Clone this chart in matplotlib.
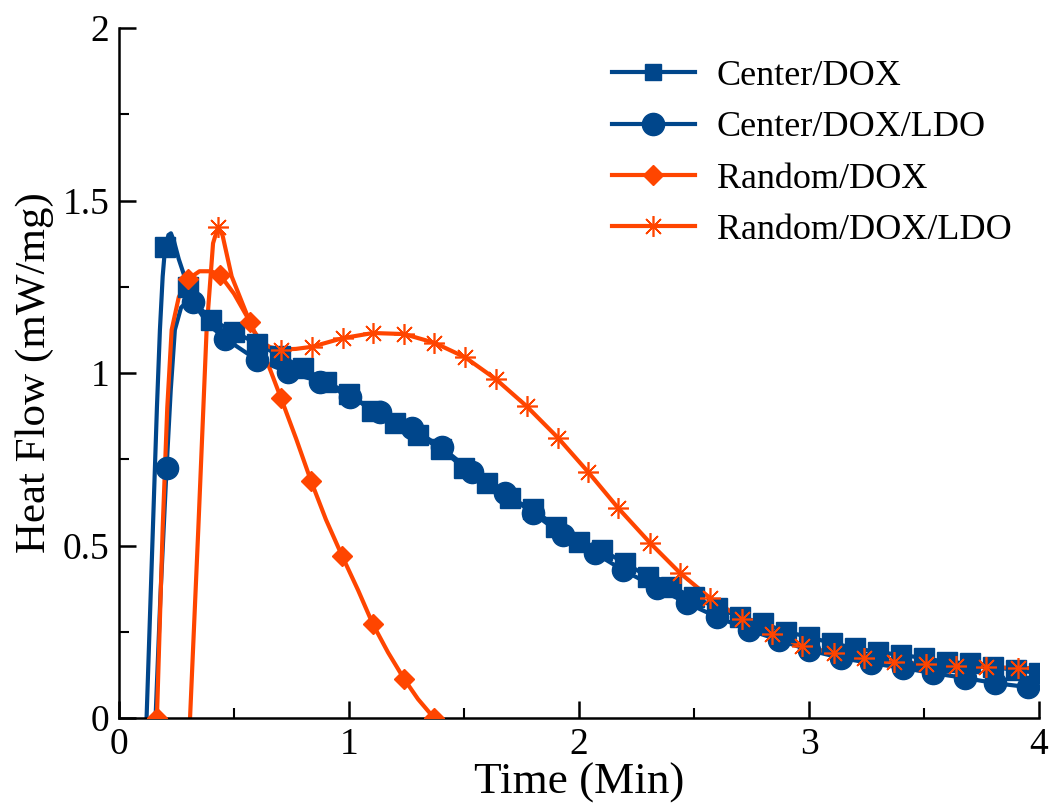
import matplotlib
matplotlib.use("Agg")
import matplotlib.pyplot as plt
from matplotlib.ticker import MultipleLocator

plt.rcParams['font.family'] = ['Liberation Serif', 'DejaVu Serif']
plt.rcParams['mathtext.fontset'] = 'stix'

BLUE = '#00468B'
ORANGE = '#FF4500'

# ---------------- data ----------------
# Center/DOX : smooth curve + square markers
cd_curve_x = [0.12, 0.135, 0.15, 0.165, 0.178, 0.19, 0.20, 0.215, 0.226, 0.24, 0.26, 0.28, 0.30, 0.35, 0.40,
              0.5, 0.6, 0.7, 0.8, 0.9, 1.0, 1.1, 1.2, 1.3, 1.4, 1.5, 1.6, 1.7, 1.8, 1.9, 2.0, 2.1, 2.2, 2.3,
              2.4, 2.5, 2.6, 2.7, 2.8, 2.9, 3.0, 3.1, 3.2, 3.3, 3.4, 3.5, 3.6, 3.7, 3.8, 3.9, 4.0]
cd_curve_y = [0.0, 0.30, 0.60, 0.90, 1.125, 1.28, 1.36, 1.40, 1.405, 1.38, 1.33, 1.29, 1.25, 1.19, 1.155,
              1.12, 1.085, 1.05, 1.015, 0.975, 0.94, 0.89, 0.855, 0.82, 0.78, 0.725, 0.68, 0.637, 0.605,
              0.555, 0.51, 0.487, 0.449, 0.41, 0.38, 0.35, 0.32, 0.293, 0.275, 0.25, 0.235, 0.217, 0.203,
              0.191, 0.183, 0.174, 0.162, 0.159, 0.148, 0.139, 0.13]
cd_mark_x = [0.2, 0.3, 0.4, 0.5, 0.6, 0.7, 0.8, 0.9, 1.0, 1.1, 1.2, 1.3, 1.4, 1.5, 1.6, 1.7, 1.8, 1.9, 2.0,
             2.1, 2.2, 2.3, 2.4, 2.5, 2.6, 2.7, 2.8, 2.9, 3.0, 3.1, 3.2, 3.3, 3.4, 3.5, 3.6, 3.7, 3.8, 3.9, 4.0]
cd_mark_y = [1.365, 1.25, 1.155, 1.12, 1.085, 1.05, 1.015, 0.975, 0.94, 0.89, 0.855, 0.82, 0.78, 0.725,
             0.68, 0.637, 0.605, 0.555, 0.51, 0.487, 0.449, 0.41, 0.38, 0.35, 0.32, 0.293, 0.275, 0.25,
             0.235, 0.217, 0.203, 0.191, 0.183, 0.174, 0.162, 0.159, 0.148, 0.139, 0.13]

# Center/DOX/LDO : smooth curve + circle markers
cdl_curve_x = [0.159, 0.18, 0.207, 0.225, 0.243, 0.27, 0.30, 0.32, 0.39, 0.461, 0.60, 0.735, 0.874, 1.004,
               1.135, 1.272, 1.403, 1.535, 1.678, 1.80, 1.93, 2.07, 2.19, 2.34, 2.47, 2.60, 2.74, 2.87,
               3.00, 3.14, 3.27, 3.41, 3.54, 3.68, 3.81, 3.95, 4.0]
cdl_curve_y = [0.0, 0.35, 0.725, 0.95, 1.125, 1.19, 1.21, 1.207, 1.14, 1.10, 1.038, 1.003, 0.975, 0.931,
               0.888, 0.84, 0.785, 0.713, 0.652, 0.594, 0.53, 0.478, 0.429, 0.377, 0.333, 0.293, 0.255,
               0.226, 0.197, 0.174, 0.159, 0.145, 0.130, 0.116, 0.101, 0.090, 0.088]
cdl_mark_x = [0.207, 0.32, 0.461, 0.60, 0.735, 0.874, 1.004, 1.135, 1.272, 1.403, 1.535, 1.678, 1.80, 1.93,
              2.07, 2.19, 2.34, 2.47, 2.60, 2.74, 2.87, 3.00, 3.14, 3.27, 3.41, 3.54, 3.68, 3.81, 3.95]
cdl_mark_y = [0.725, 1.207, 1.10, 1.038, 1.003, 0.975, 0.931, 0.888, 0.84, 0.785, 0.713, 0.652, 0.594,
              0.53, 0.478, 0.429, 0.377, 0.333, 0.293, 0.255, 0.226, 0.197, 0.174, 0.159, 0.145, 0.130,
              0.116, 0.101, 0.090]

# Random/DOX : smooth curve + diamond markers
rd_curve_x = [0.165, 0.19, 0.21, 0.229, 0.26, 0.30, 0.35, 0.40, 0.44, 0.50, 0.57, 0.64, 0.704, 0.77,
              0.835, 0.90, 0.97, 1.04, 1.104, 1.17, 1.24, 1.30, 1.37]
rd_curve_y = [0.0, 0.55, 0.90, 1.125, 1.22, 1.272, 1.295, 1.295, 1.284, 1.23, 1.148, 1.04, 0.928, 0.81,
              0.687, 0.575, 0.470, 0.37, 0.272, 0.19, 0.113, 0.055, 0.0]
rd_mark_x = [0.165, 0.30, 0.44, 0.57, 0.704, 0.835, 0.97, 1.104, 1.24, 1.37]
rd_mark_y = [0.0, 1.272, 1.284, 1.148, 0.928, 0.687, 0.470, 0.272, 0.113, 0.0]

# Random/DOX/LDO : smooth curve + asterisk markers
rdl_curve_x = [0.309, 0.345, 0.381, 0.409, 0.43, 0.45, 0.49, 0.548, 0.583, 0.62, 0.657, 0.704, 0.77,
               0.838, 0.972, 1.104, 1.239, 1.37, 1.504, 1.639, 1.772, 1.909, 2.04, 2.17, 2.31, 2.44,
               2.57, 2.71, 2.84, 2.97, 3.11, 3.24, 3.37, 3.51, 3.64, 3.77, 3.91, 4.0]
rdl_curve_y = [0.0, 0.55, 1.125, 1.376, 1.423, 1.40, 1.28, 1.183, 1.125, 1.09, 1.075, 1.068, 1.07,
               1.076, 1.101, 1.116, 1.113, 1.088, 1.046, 0.982, 0.904, 0.812, 0.713, 0.609, 0.507, 0.42,
               0.348, 0.287, 0.243, 0.209, 0.188, 0.174, 0.162, 0.157, 0.151, 0.148, 0.145, 0.145]
rdl_mark_x = [0.43, 0.704, 0.838, 0.972, 1.104, 1.239, 1.37, 1.504, 1.639, 1.772, 1.909, 2.04, 2.17,
              2.31, 2.44, 2.57, 2.71, 2.84, 2.97, 3.11, 3.24, 3.37, 3.51, 3.64, 3.77, 3.91]
rdl_mark_y = [1.423, 1.068, 1.076, 1.101, 1.116, 1.113, 1.088, 1.046, 0.982, 0.904, 0.812, 0.713, 0.609,
              0.507, 0.42, 0.348, 0.287, 0.243, 0.209, 0.188, 0.174, 0.162, 0.157, 0.151, 0.148, 0.145]

labels = ['Center/DOX', 'Center/DOX/LDO', 'Random/DOX', 'Random/DOX/LDO']
x_ticks = [0, 1, 2, 3, 4]
y_ticks = [0, 0.5, 1, 1.5, 2]
y_tick_labels = ['0', '0.5', '1', '1.5', '2']

# ---------------- figure ----------------
fig = plt.figure(figsize=(10.51, 8.05), dpi=100)
ax = fig.add_axes([0.1132, 0.108, 0.8754, 0.8572])

LW = 3.0
series = [
    (cd_curve_x, cd_curve_y, cd_mark_x, cd_mark_y, BLUE, dict(marker='s', markersize=14)),
    (cdl_curve_x, cdl_curve_y, cdl_mark_x, cdl_mark_y, BLUE, dict(marker='o', markersize=16)),
    (rd_curve_x, rd_curve_y, rd_mark_x, rd_mark_y, ORANGE, dict(marker='D', markersize=10)),
    (rdl_curve_x, rdl_curve_y, rdl_mark_x, rdl_mark_y, ORANGE,
     dict(marker=(8, 2, 0), markersize=15, markeredgewidth=1.2)),
]
legend_sizes = [12, 16, 10, 15]
handles = []
for (cx, cy, mx, my, col, mk), lab, ls in zip(series, labels, legend_sizes):
    ax.plot(cx, cy, color=col, lw=LW, solid_capstyle='round', zorder=2, clip_on=True)
    ax.plot(mx, my, linestyle='none', color=col, markerfacecolor=col, markeredgecolor=col,
            zorder=3, clip_on=True, **mk)
    mk2 = dict(mk)
    mk2['markersize'] = ls
    h, = ax.plot([], [], color=col, lw=LW, markerfacecolor=col, markeredgecolor=col, label=lab, **mk2)
    handles.append(h)

ax.set_xlim(0, 4)
ax.set_ylim(0, 2)
ax.set_xticks(x_ticks)
ax.set_xticklabels([str(t) for t in x_ticks])
ax.set_yticks(y_ticks)
ax.set_yticklabels(y_tick_labels)
ax.xaxis.set_minor_locator(MultipleLocator(0.5))
ax.yaxis.set_minor_locator(MultipleLocator(0.25))

for s in ['top', 'right']:
    ax.spines[s].set_visible(False)
for s in ['left', 'bottom']:
    ax.spines[s].set_linewidth(1.8)

ax.tick_params(which='major', direction='in', length=12, width=1.8, labelsize=27, pad=7)
ax.tick_params(which='minor', direction='in', length=7, width=1.5)

ax.set_xlabel('Time (Min)', fontsize=32.5, labelpad=0)
ax.set_ylabel('Heat Flow (mW/mg)', fontsize=31, labelpad=6)

ax.legend(handles=handles, loc='upper left', bbox_to_anchor=(0.52, 0.975), frameon=False,
          fontsize=26, handlelength=2.3, handletextpad=0.6, labelspacing=0.5, borderaxespad=0)

fig.savefig('out.png', dpi=100)
